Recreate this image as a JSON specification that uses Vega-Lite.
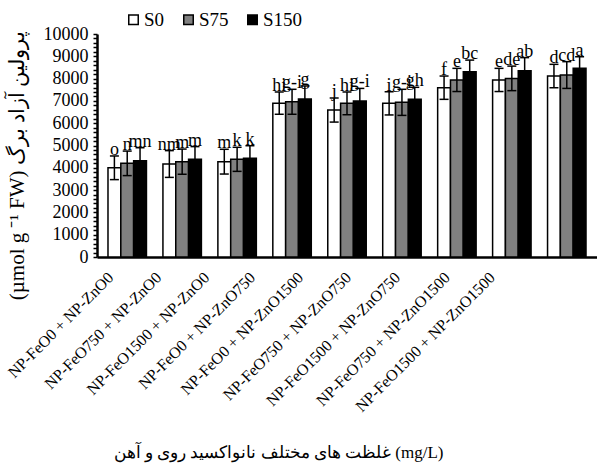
{
  "$schema": "https://vega.github.io/schema/vega-lite/v6.json",
  "width": 500,
  "height": 223,
  "autosize": {"type": "none"},
  "padding": {"left": 97, "top": 34, "right": 0, "bottom": 207},
  "background": "white",
  "config": {
    "font": "Liberation Serif",
    "view": {"stroke": null},
    "text": {"font": "Liberation Serif"},
    "axis": {"grid": false, "domainColor": "black", "tickColor": "black", "labelColor": "black", "titleColor": "black", "titleFontWeight": "normal", "labelFont": "Liberation Serif", "titleFont": "Liberation Serif"},
    "axisY": {"labelOverlap": false, "tickSize": 4, "tickWidth": 1.5, "domainWidth": 2.5, "labelFontSize": 18, "labelPadding": 5},
    "legend": {"labelFont": "Liberation Serif", "titleFont": "Liberation Serif"}
  },
  "data": {
    "values": [
      {"group": "NP-FeO0 + NP-ZnO0", "series": "S0", "value": 4000, "lower": 3470, "upper": 4530, "letter": "o"},
      {"group": "NP-FeO0 + NP-ZnO0", "series": "S75", "value": 4200, "lower": 3650, "upper": 4750, "letter": "n"},
      {"group": "NP-FeO0 + NP-ZnO0", "series": "S150", "value": 4320, "lower": 3740, "upper": 4900, "letter": "mn"},
      {"group": "NP-FeO750 + NP-ZnO0", "series": "S0", "value": 4170, "lower": 3570, "upper": 4770, "letter": "nm"},
      {"group": "NP-FeO750 + NP-ZnO0", "series": "S75", "value": 4275, "lower": 3710, "upper": 4840, "letter": "m"},
      {"group": "NP-FeO750 + NP-ZnO0", "series": "S150", "value": 4380, "lower": 3810, "upper": 4950, "letter": "m"},
      {"group": "NP-FeO1500 + NP-ZnO0", "series": "S0", "value": 4275, "lower": 3720, "upper": 4830, "letter": "m"},
      {"group": "NP-FeO1500 + NP-ZnO0", "series": "S75", "value": 4380, "lower": 3840, "upper": 4920, "letter": "k"},
      {"group": "NP-FeO1500 + NP-ZnO0", "series": "S150", "value": 4425, "lower": 3860, "upper": 4990, "letter": "k"},
      {"group": "NP-FeO0 + NP-ZnO750", "series": "S0", "value": 6900, "lower": 6400, "upper": 7400, "letter": "hi"},
      {"group": "NP-FeO0 + NP-ZnO750", "series": "S75", "value": 6960, "lower": 6400, "upper": 7520, "letter": "g-i"},
      {"group": "NP-FeO0 + NP-ZnO750", "series": "S150", "value": 7085, "lower": 6500, "upper": 7670, "letter": "g"},
      {"group": "NP-FeO0 + NP-ZnO1500", "series": "S0", "value": 6590, "lower": 6050, "upper": 7130, "letter": "j"},
      {"group": "NP-FeO0 + NP-ZnO1500", "series": "S75", "value": 6890, "lower": 6380, "upper": 7400, "letter": "hi"},
      {"group": "NP-FeO0 + NP-ZnO1500", "series": "S150", "value": 7000, "lower": 6440, "upper": 7560, "letter": "g-i"},
      {"group": "NP-FeO750 + NP-ZnO750", "series": "S0", "value": 6890, "lower": 6370, "upper": 7410, "letter": "i"},
      {"group": "NP-FeO750 + NP-ZnO750", "series": "S75", "value": 6935, "lower": 6350, "upper": 7520, "letter": "g-i"},
      {"group": "NP-FeO750 + NP-ZnO750", "series": "S150", "value": 7070, "lower": 6530, "upper": 7610, "letter": "gh"},
      {"group": "NP-FeO1500 + NP-ZnO750", "series": "S0", "value": 7590, "lower": 7070, "upper": 8115, "letter": "f"},
      {"group": "NP-FeO1500 + NP-ZnO750", "series": "S75", "value": 7940, "lower": 7420, "upper": 8460, "letter": "e"},
      {"group": "NP-FeO1500 + NP-ZnO750", "series": "S150", "value": 8310, "lower": 7790, "upper": 8830, "letter": "bc"},
      {"group": "NP-FeO750 + NP-ZnO1500", "series": "S0", "value": 7940, "lower": 7420, "upper": 8460, "letter": "e"},
      {"group": "NP-FeO750 + NP-ZnO1500", "series": "S75", "value": 8010, "lower": 7460, "upper": 8560, "letter": "de"},
      {"group": "NP-FeO750 + NP-ZnO1500", "series": "S150", "value": 8355, "lower": 7770, "upper": 8940, "letter": "ab"},
      {"group": "NP-FeO1500 + NP-ZnO1500", "series": "S0", "value": 8115, "lower": 7590, "upper": 8640, "letter": "d"},
      {"group": "NP-FeO1500 + NP-ZnO1500", "series": "S75", "value": 8160, "lower": 7560, "upper": 8760, "letter": "cd"},
      {"group": "NP-FeO1500 + NP-ZnO1500", "series": "S150", "value": 8460, "lower": 7940, "upper": 8980, "letter": "a"}
    ]
  },
  "encoding": {
    "x": {
      "field": "group",
      "type": "nominal",
      "sort": ["NP-FeO0 + NP-ZnO0", "NP-FeO750 + NP-ZnO0", "NP-FeO1500 + NP-ZnO0", "NP-FeO0 + NP-ZnO750", "NP-FeO0 + NP-ZnO1500", "NP-FeO750 + NP-ZnO750", "NP-FeO1500 + NP-ZnO750", "NP-FeO750 + NP-ZnO1500", "NP-FeO1500 + NP-ZnO1500"],
      "scale": {"paddingInner": 0.3, "paddingOuter": 0.2},
      "axis": {
        "title": "غلظت های مختلف نانواکسید روی و آهن (mg/L)",
        "titleFontSize": 17,
        "titleX": 181,
        "titleY": 195,
        "titleBaseline": "middle",
        "labelAngle": -45,
        "labelFontSize": 16,
        "labelOffset": {
          "condition": [
            {"test": "datum.value === 'NP-FeO0 + NP-ZnO0'", "value": -22},
            {"test": "datum.value === 'NP-FeO750 + NP-ZnO0'", "value": -29},
            {"test": "datum.value === 'NP-FeO1500 + NP-ZnO0'", "value": -36},
            {"test": "datum.value === 'NP-FeO0 + NP-ZnO750'", "value": -45},
            {"test": "datum.value === 'NP-FeO0 + NP-ZnO1500'", "value": -52},
            {"test": "datum.value === 'NP-FeO750 + NP-ZnO750'", "value": -59},
            {"test": "datum.value === 'NP-FeO1500 + NP-ZnO750'", "value": -65},
            {"test": "datum.value === 'NP-FeO750 + NP-ZnO1500'", "value": -70}
          ],
          "value": -80
        },
        "labelPadding": 12,
        "labelLimit": 400,
        "labelOverlap": false,
        "ticks": false,
        "domainWidth": 2.5
      }
    },
    "xOffset": {"field": "series", "type": "nominal", "sort": ["S0", "S75", "S150"], "scale": {"paddingInner": 0}}
  },
  "layer": [
    {
      "mark": {"type": "bar", "stroke": "black", "strokeWidth": 1.5},
      "encoding": {
        "y": {
          "field": "value",
          "type": "quantitative",
          "scale": {"domain": [0, 10000], "nice": false},
          "axis": {
            "title": "(µmol g ⁻¹ FW) پرولین آزاد برگ",
            "titleFontSize": 21,
            "titleX": -74,
            "titleY": 131,
            "titleAngle": -90,
            "titleAlign": "center",
            "titleBaseline": "alphabetic",
            "values": [0, 200, 400, 600, 800, 1000, 1200, 1400, 1600, 1800, 2000, 2200, 2400, 2600, 2800, 3000, 3200, 3400, 3600, 3800, 4000, 4200, 4400, 4600, 4800, 5000, 5200, 5400, 5600, 5800, 6000, 6200, 6400, 6600, 6800, 7000, 7200, 7400, 7600, 7800, 8000, 8200, 8400, 8600, 8800, 9000, 9200, 9400, 9600, 9800, 10000],
            "labelExpr": "datum.value % 1000 === 0 ? format(datum.value, 'd') : ''",
            "labelOverlap": false
          }
        },
        "fill": {
          "field": "series",
          "type": "nominal",
          "scale": {"domain": ["S0", "S75", "S150"], "range": ["white", "#808080", "black"]},
          "legend": {
            "title": null,
            "orient": "none",
            "direction": "horizontal",
            "legendX": 27,
            "legendY": -24,
            "symbolType": "square",
            "symbolSize": 90,
            "symbolStrokeColor": "black",
            "symbolStrokeWidth": 1.5,
            "labelFont": "Liberation Serif",
            "labelFontSize": 19,
            "labelColor": "black",
            "labelOffset": 1,
            "columnPadding": 14
          }
        }
      }
    },
    {
      "mark": {"type": "rule", "strokeWidth": 1.5, "color": "black"},
      "encoding": {
        "y": {
          "field": "lower",
          "type": "quantitative",
          "axis": {
            "title": "(µmol g ⁻¹ FW) پرولین آزاد برگ",
            "titleFontSize": 21,
            "titleX": -74,
            "titleY": 131,
            "titleAngle": -90,
            "titleAlign": "center",
            "titleBaseline": "alphabetic",
            "values": [0, 200, 400, 600, 800, 1000, 1200, 1400, 1600, 1800, 2000, 2200, 2400, 2600, 2800, 3000, 3200, 3400, 3600, 3800, 4000, 4200, 4400, 4600, 4800, 5000, 5200, 5400, 5600, 5800, 6000, 6200, 6400, 6600, 6800, 7000, 7200, 7400, 7600, 7800, 8000, 8200, 8400, 8600, 8800, 9000, 9200, 9400, 9600, 9800, 10000],
            "labelExpr": "datum.value % 1000 === 0 ? format(datum.value, 'd') : ''",
            "labelOverlap": false
          }
        },
        "y2": {"field": "upper"}
      }
    },
    {
      "mark": {"type": "tick", "thickness": 1.5, "size": 9, "color": "black", "opacity": 1},
      "encoding": {
        "y": {
          "field": "upper",
          "type": "quantitative",
          "axis": {
            "title": "(µmol g ⁻¹ FW) پرولین آزاد برگ",
            "titleFontSize": 21,
            "titleX": -74,
            "titleY": 131,
            "titleAngle": -90,
            "titleAlign": "center",
            "titleBaseline": "alphabetic",
            "values": [0, 200, 400, 600, 800, 1000, 1200, 1400, 1600, 1800, 2000, 2200, 2400, 2600, 2800, 3000, 3200, 3400, 3600, 3800, 4000, 4200, 4400, 4600, 4800, 5000, 5200, 5400, 5600, 5800, 6000, 6200, 6400, 6600, 6800, 7000, 7200, 7400, 7600, 7800, 8000, 8200, 8400, 8600, 8800, 9000, 9200, 9400, 9600, 9800, 10000],
            "labelExpr": "datum.value % 1000 === 0 ? format(datum.value, 'd') : ''",
            "labelOverlap": false
          }
        }
      }
    },
    {
      "mark": {"type": "tick", "thickness": 1.5, "size": 9, "color": "black", "opacity": 1},
      "encoding": {
        "y": {
          "field": "lower",
          "type": "quantitative",
          "axis": {
            "title": "(µmol g ⁻¹ FW) پرولین آزاد برگ",
            "titleFontSize": 21,
            "titleX": -74,
            "titleY": 131,
            "titleAngle": -90,
            "titleAlign": "center",
            "titleBaseline": "alphabetic",
            "values": [0, 200, 400, 600, 800, 1000, 1200, 1400, 1600, 1800, 2000, 2200, 2400, 2600, 2800, 3000, 3200, 3400, 3600, 3800, 4000, 4200, 4400, 4600, 4800, 5000, 5200, 5400, 5600, 5800, 6000, 6200, 6400, 6600, 6800, 7000, 7200, 7400, 7600, 7800, 8000, 8200, 8400, 8600, 8800, 9000, 9200, 9400, 9600, 9800, 10000],
            "labelExpr": "datum.value % 1000 === 0 ? format(datum.value, 'd') : ''",
            "labelOverlap": false
          }
        }
      }
    },
    {
      "mark": {"type": "text", "baseline": "alphabetic", "dy": -1, "fontSize": 18, "font": "Liberation Serif", "color": "black"},
      "encoding": {
        "y": {
          "field": "upper",
          "type": "quantitative",
          "axis": {
            "title": "(µmol g ⁻¹ FW) پرولین آزاد برگ",
            "titleFontSize": 21,
            "titleX": -74,
            "titleY": 131,
            "titleAngle": -90,
            "titleAlign": "center",
            "titleBaseline": "alphabetic",
            "values": [0, 200, 400, 600, 800, 1000, 1200, 1400, 1600, 1800, 2000, 2200, 2400, 2600, 2800, 3000, 3200, 3400, 3600, 3800, 4000, 4200, 4400, 4600, 4800, 5000, 5200, 5400, 5600, 5800, 6000, 6200, 6400, 6600, 6800, 7000, 7200, 7400, 7600, 7800, 8000, 8200, 8400, 8600, 8800, 9000, 9200, 9400, 9600, 9800, 10000],
            "labelExpr": "datum.value % 1000 === 0 ? format(datum.value, 'd') : ''",
            "labelOverlap": false
          }
        },
        "text": {"field": "letter"}
      }
    }
  ]
}
